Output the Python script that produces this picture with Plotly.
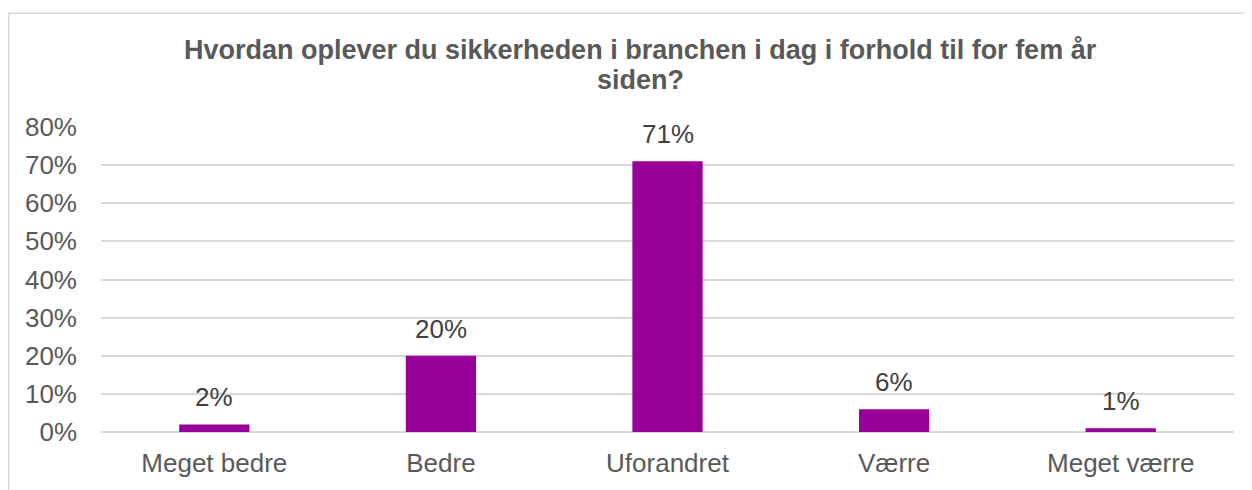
import plotly.graph_objects as go

categories = ["Meget bedre", "Bedre", "Uforandret", "Værre", "Meget værre"]
values = [0.02, 0.20, 0.71, 0.06, 0.01]
labels = ["2%", "20%", "71%", "6%", "1%"]
title_lines = ["Hvordan oplever du sikkerheden i branchen i dag i forhold til for fem år", "siden?"]

FONT = "Liberation Sans, Arial"
W, H = 1244, 482
ML, MR, MT, MB = 93, 18, 119, 48
PW = W - ML - MR
PH = H - MT - MB

fig = go.Figure(go.Bar(
    x=categories, y=values,
    marker=dict(color="#990099", line=dict(width=0)),
    hoverinfo="skip",
))

annotations = [
    dict(x=c, y=v, text=t, showarrow=False, xref="x", yref="y",
         yanchor="middle", xanchor="center", yshift=27,
         font=dict(size=26, color="#404040", family=FONT))
    for c, v, t in zip(categories, values, labels)
]

title_y_px = [39, 70]
for line, ypx in zip(title_lines, title_y_px):
    fx = 632
    fy = H - ypx
    annotations.append(dict(
        x=(fx - ML) / PW, y=(fy - MB) / PH, xref="paper", yref="paper",
        xanchor="center", yanchor="middle", showarrow=False,
        text="<b>" + line + "</b>",
        font=dict(size=27, color="#595959", family=FONT),
    ))

fig.update_layout(
    width=W, height=H,
    margin=dict(l=ML, r=MR, t=MT, b=MB),
    paper_bgcolor="white", plot_bgcolor="white",
    bargap=0.69,
    showlegend=False,
    font=dict(family=FONT, color="#595959"),
    xaxis=dict(showgrid=False, showline=False, ticks="", tickfont=dict(size=26, color="#595959"),
               ticklabelstandoff=13),
    yaxis=dict(range=[0, 0.8], dtick=0.1, tickformat=".0%", showgrid=True,
               gridcolor="#d9d9d9", gridwidth=1.5, zeroline=True, zerolinecolor="#d9d9d9",
               zerolinewidth=1.5,
               showline=False, ticks="", tickfont=dict(size=26, color="#595959"),
               ticklabelstandoff=23),
    annotations=annotations,
    shapes=[dict(type="rect", xref="paper", yref="paper",
                 x0=-(ML - 0.8) / PW, x1=1.5, y0=-0.5, y1=(H - MB - 1.5) / PH,
                 line=dict(color="#d9d9d9", width=1.5), fillcolor="rgba(0,0,0,0)", layer="below")],
)

fig.write_html("out.html")
